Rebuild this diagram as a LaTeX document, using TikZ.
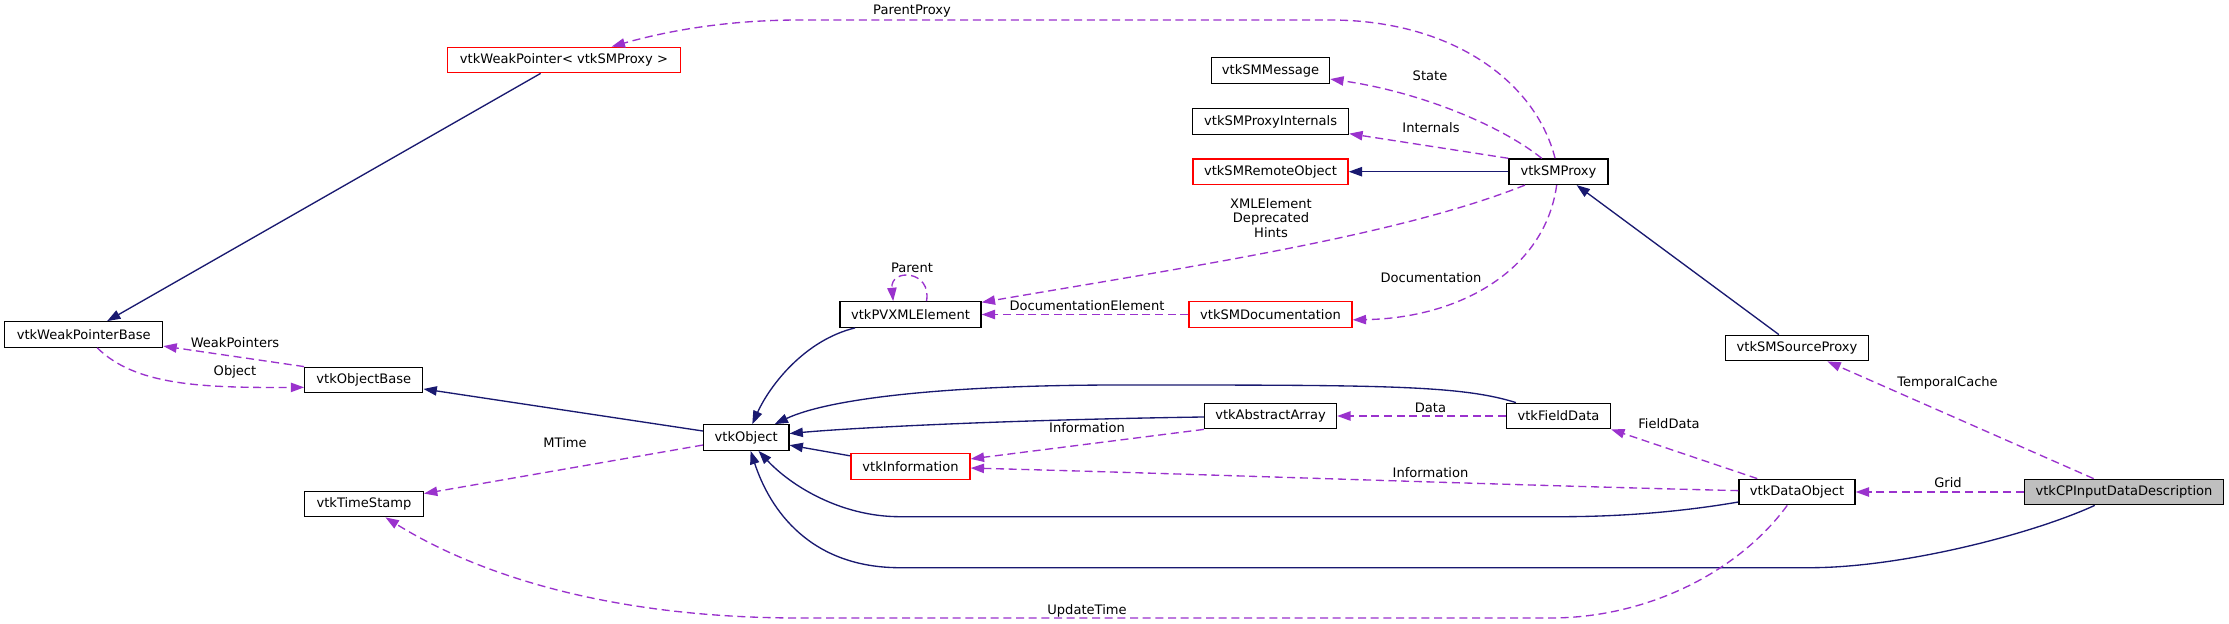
\documentclass[tikz,border=0pt]{standalone}
\usepackage{fontspec}
\setmainfont{DejaVu Sans}
\usepackage{xcolor}
\usepackage{tikz}
\usetikzlibrary{arrows.meta}
\definecolor{inheritblue}{HTML}{191970}
\definecolor{usagepurple}{HTML}{9A32CD}

\begin{document}
\begin{tikzpicture}[
    x=0.75pt, y=-0.75pt,
    box/.style={draw=black, fill=white, line width=1pt, minimum height=19.1pt, inner xsep=2pt, font=\fontsize{9.8}{11}\selectfont},
    redbox/.style={box, draw=red},
    focus/.style={box, fill=black!25},
    inherit/.style={-{Triangle[length=10pt, width=7pt]}, line width=1pt, color=inheritblue},
    usage/.style={-{Triangle[length=10pt, width=7pt]}, line width=1pt, color=usagepurple, dash pattern=on 6pt off 3.5pt},
    lbl/.style={font=\fontsize{9.8}{11}\selectfont, inner sep=0pt, align=center}
]
    \path[fill=white, use as bounding box] (0,0) rectangle (2229,624);

    % Left column
    \node[redbox, minimum width=174.4pt] (weakptr) at (564,60) {vtkWeakPointer< vtkSMProxy >};
    \node[box, minimum width=118.5pt] (weakbase) at (83.7,334.5) {vtkWeakPointerBase};
    \node[box, minimum width=88.5pt] (objbase) at (363.8,380) {vtkObjectBase};
    \node[box, minimum width=89pt] (tstamp) at (364,504) {vtkTimeStamp};
    \node[box, minimum width=64pt] (object) at (746.2,437.5) {vtkObject};

    % Middle nodes
    \node[box, minimum width=105.8pt] (pvxml) at (910.5,314.5) {vtkPVXMLElement};
    \node[redbox, minimum width=89.3pt] (info) at (910.5,466.5) {vtkInformation};
    \node[box, minimum width=88.5pt] (smmsg) at (1270.6,70.5) {vtkSMMessage};
    \node[box, minimum width=117pt] (smintern) at (1270.6,121.5) {vtkSMProxyInternals};
    \node[redbox, minimum width=116.3pt] (smremote) at (1270.5,171.7) {vtkSMRemoteObject};
    \node[redbox, minimum width=122.3pt] (smdoc) at (1270.5,314.5) {vtkSMDocumentation};
    \node[box, minimum width=99pt] (absarray) at (1270.5,416) {vtkAbstractArray};

    % Right nodes
    \node[box, minimum width=74.3pt] (smproxy) at (1558.5,171.7) {vtkSMProxy};
    \node[box, minimum width=78pt] (fielddata) at (1558.5,416) {vtkFieldData};
    \node[box, minimum width=107.3pt] (srcproxy) at (1797,348) {vtkSMSourceProxy};
    \node[box, minimum width=87pt] (dataobj) at (1797,492) {vtkDataObject};
    \node[focus, minimum width=149.3pt] (cpinput) at (2124,492) {vtkCPInputDataDescription};

    % Inheritance
    \draw[inherit] (weakptr) -- (weakbase);
    \draw[inherit] (object) -- (objbase);
    \draw[inherit] (pvxml) .. controls (805,340) and (770,385) .. (object);
    \draw[inherit] (fielddata) .. controls (1460,385) and (1380,385) .. (1120,385) .. controls (950,385) and (830,398) .. (object);
    \draw[inherit] (absarray) .. controls (1000,420) and (850,428) .. (object);
    \draw[inherit] (info) -- (object);
    \draw[inherit] (dataobj) .. controls (1680,512) and (1620,516.7) .. (1560,516.7) -- (900,516.7) .. controls (840,516.7) and (790,485) .. (object);
    \draw[inherit] (cpinput) .. controls (2030,535) and (1900,567.7) .. (1810,567.7) -- (900,567.7) .. controls (810,567.7) and (770,510) .. (object);
    \draw[inherit] (srcproxy) -- (smproxy);
    \draw[inherit] (smproxy) -- (smremote);

    % Usage
    \draw[usage] (smproxy) .. controls (1535,80) and (1450,20) .. (1330,20) -- (800,20) .. controls (720,20) and (660,33) .. (weakptr);
    \draw[usage] (smproxy) .. controls (1500,125) and (1420,92) .. (smmsg);
    \draw[usage] (smproxy.north west) -- (smintern);
    \draw[usage] (smproxy) .. controls (1400,235) and (1200,265) .. (pvxml);
    \draw[usage] (smproxy) .. controls (1545,270) and (1460,318) .. ([yshift=-4pt]smdoc.east);
    \draw[usage] ([xshift=12pt]pvxml.north) .. controls (932,270) and (890,268) .. ([xshift=-13pt]pvxml.north);
    \draw[usage] (smdoc) -- (pvxml);
    \draw[usage] (objbase.north west) -- (weakbase);
    \draw[usage] (weakbase) .. controls (135,385) and (200,388) .. ([yshift=-5.5pt]objbase.west);
    \draw[usage] (object) -- (tstamp);
    \draw[usage] (dataobj) .. controls (1740,570) and (1650,618) .. (1550,618) -- (800,618) .. controls (600,618) and (470,570) .. (tstamp);
    \draw[usage] (fielddata) -- (absarray);
    \draw[usage] (absarray.south west) -- (info);
    \draw[usage] (dataobj) .. controls (1500,485) and (1200,474) .. (info);
    \draw[usage] (dataobj) -- (fielddata.south east);
    \draw[usage] (cpinput) -- (srcproxy);
    \draw[usage] (cpinput) -- (dataobj);

    % Edge labels
    \node[lbl] (lparentproxy) at (912,11) {ParentProxy};
    \node[lbl] (lstate) at (1430,76) {State};
    \node[lbl] (linternals) at (1431,128) {Internals};
    \node[lbl] (lxml) at (1271,218) {XMLElement\\Deprecated\\Hints};
    \node[lbl] (ldoc) at (1431,278) {Documentation};
    \node[lbl] (lparent) at (912,268) {Parent};
    \node[lbl] (ldocelem) at (1087,305.5) {DocumentationElement};
    \node[lbl] (lweakptrs) at (235,342.5) {WeakPointers};
    \node[lbl] (lobject) at (235,372) {Object};
    \node[lbl] (lmtime) at (565,442.5) {MTime};
    \node[lbl] (lupdate) at (1087,611) {UpdateTime};
    \node[lbl] (ldata) at (1430.5,408) {Data};
    \node[lbl] (linfo1) at (1087,428) {Information};
    \node[lbl] (linfo2) at (1430.5,472.5) {Information};
    \node[lbl] (lfield) at (1669,423.5) {FieldData};
    \node[lbl] (ltemporal) at (1947.5,382.5) {TemporalCache};
    \node[lbl] (lgrid) at (1948,483) {Grid};
\end{tikzpicture}
\end{document}
